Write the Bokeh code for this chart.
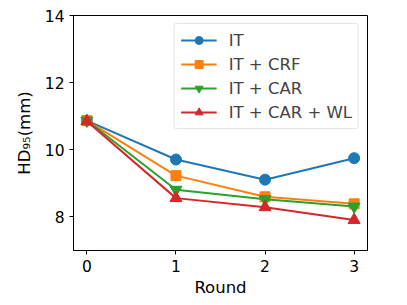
from bokeh.plotting import figure
from bokeh.models import FixedTicker, Range1d
from bokeh.embed import file_html
from bokeh.resources import INLINE

rounds = [0, 1, 2, 3]
it = [10.87, 9.71, 9.11, 9.75]
it_crf = [10.87, 9.23, 8.60, 8.39]
it_car = [10.87, 8.81, 8.53, 8.31]
it_car_wl = [10.85, 8.56, 8.29, 7.91]

series = [
    ("IT", it, "#1f77b4", "circle", 11),
    ("IT + CRF", it_crf, "#ff7f0e", "square", 10),
    ("IT + CAR", it_car, "#2ca02c", "inverted_triangle", 12),
    ("IT + CAR + WL", it_car_wl, "#d62728", "triangle", 12),
]

FONT = "DejaVu Sans"

p = figure(frame_width=294, frame_height=235, min_border_left=73, min_border_right=24,
           min_border_top=15, min_border_bottom=39, output_backend="svg",
           toolbar_location=None, x_range=Range1d(-0.15, 3.15), y_range=Range1d(7, 14))

for name, ys, color, marker, size in series:
    p.line(rounds, ys, color=color, line_width=2, legend_label=name)
    p.scatter(rounds, ys, marker=marker, size=size, color=color, legend_label=name)

p.xgrid.visible = False
p.ygrid.visible = False
p.outline_line_color = "black"
p.outline_line_width = 1

p.xaxis.ticker = FixedTicker(ticks=rounds)
p.yaxis.ticker = FixedTicker(ticks=[8, 10, 12, 14])
for ax in (p.xaxis[0], p.yaxis[0]):
    ax.minor_tick_line_color = None
    ax.major_tick_in = 0
    ax.major_tick_out = 4
    ax.major_label_text_font = FONT
    ax.major_label_text_font_size = "15.5px"
    ax.major_label_text_color = "black"
    ax.axis_label_text_font = FONT
    ax.axis_label_text_font_size = "16.5px"
    ax.axis_label_text_font_style = "normal"
    ax.axis_label_text_color = "black"
    ax.axis_line_color = "black"
    ax.major_tick_line_color = "black"
p.xaxis.axis_label = "Round"
p.yaxis.axis_label = "HD₉₅(mm)"
p.xaxis.axis_label_standoff = 3
p.yaxis.axis_label_standoff = 8

p.legend.location = "top_right"
p.legend.margin = 8
p.legend.label_text_font = FONT
p.legend.label_text_font_size = "16.5px"
p.legend.glyph_width = 36
p.legend.label_standoff = 12
p.legend.spacing = 4
p.legend.padding = 6
p.legend.border_line_color = "#cccccc"
p.legend.border_radius = 3
p.legend.background_fill_alpha = 0.8

open("out.html", "w").write(file_html(p, INLINE))
